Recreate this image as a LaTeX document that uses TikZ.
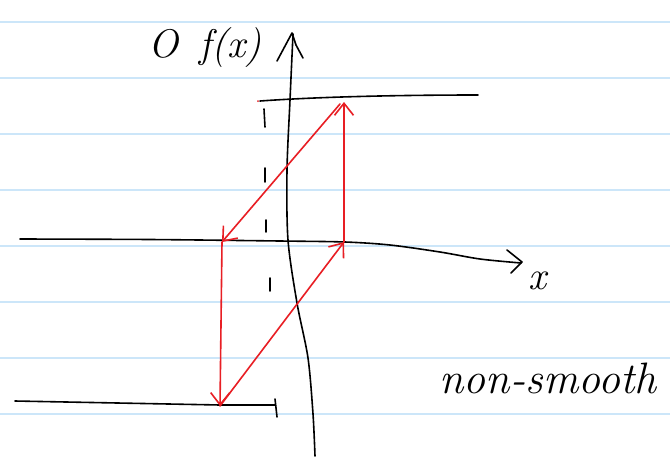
\documentclass[tikz,border=0pt]{standalone}
\usetikzlibrary{arrows.meta}
\definecolor{rulecol}{RGB}{204,230,249}
\definecolor{pen}{RGB}{232,30,36}
\begin{document}
\begin{tikzpicture}[x=1pt,y=-1pt,
  ink/.style={line width=1.6pt, line cap=round, line join=round},
  redink/.style={ink, draw=pen},
  barb/.style={-{Straight Barb[length=12pt,width=19pt,line width=1.6pt]}},
  notebook/.style={draw=rulecol, line width=1.2pt}]
\fill[white] (0,0) rectangle (670,459);
\useasboundingbox (0,0) rectangle (670,459);
\foreach \yy in {22,78,134,190,246,302,358,414}
  \draw[notebook] (0,\yy) -- (670,\yy);

% y axis
\draw[ink] plot[smooth] coordinates {(293,34) (290,100) (287,170) (288,240) (297,303) (308,358) (313,414) (315,456)};
\draw[ink] (277,61) -- (292,33) -- (296,45) -- (303,58);

% top horizontal line
\draw[ink] (260,101) .. controls (330,96) and (420,95) .. (478,95);
\fill[pen] (258,101) circle (1pt);

% x axis
\draw[ink] plot[smooth] coordinates {(20,239) (150,239.5) (280,241) (345,242) (390,245) (440,252) (480,259) (521,263)};
\draw[ink] (507,250) -- (522,262) -- (511,273);
\node (xl) at (537,281) {\fontsize{40}{46}\selectfont\itshape x};

% bottom horizontal line
\draw[ink] (15,401) -- (220,405) -- (275,405);
\draw[ink] (275,399) -- (277,417);

% dashed vertical
\draw[ink] (264,109) -- (265,127);
\draw[ink] (265,168) -- (265,182);
\draw[ink] (266,220) -- (266,232);
\draw[ink] (270,278) -- (270,291);

% red cycle
\coordinate (A) at (344,242);
\coordinate (B) at (344,102);
\coordinate (B2) at (340,104);
\coordinate (C) at (222,242);
\coordinate (D) at (220,406);
\draw[redink, barb] (A) -- (B);
\draw[redink, barb] (B2) -- (C);
\draw[redink, barb] (C) -- (D);
\draw[redink, barb] (D) -- (A);

% labels
\node (title) at (205,48) {\fontsize{40}{46}\selectfont\itshape O\, f(x)};
\node (ns) at (548,378) {\fontsize{44}{50}\selectfont\itshape non-smooth};
\end{tikzpicture}
\end{document}
